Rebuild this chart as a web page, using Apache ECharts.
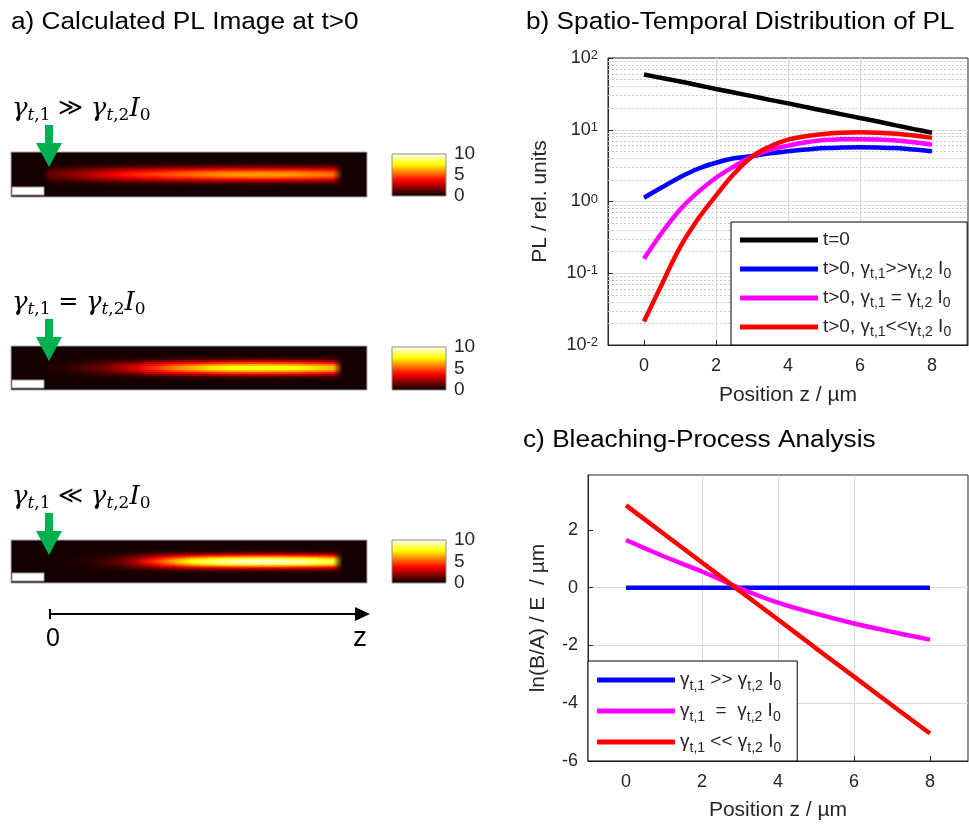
<!DOCTYPE html>
<html><head><meta charset="utf-8">
<script src="https://cdn.jsdelivr.net/npm/echarts@6/dist/echarts.min.js"></script>
<style>html,body{margin:0;padding:0;background:#fff}#c{width:969px;height:827px}</style>
</head><body><div id="c"></div>
<script>
// ---------- data ----------
const zB = [0,0.5,1,1.5,2,2.5,3,3.5,4,4.5,5,5.5,6,6.5,7,7.5,8];
const plT0    = [59,52.5,47,41.8,37,33,29.4,26.1,23.3,20.7,18.4,16.4,14.6,13,11.5,10.2,9.1];
const plHigh  = [1.13,1.58,2.18,2.86,3.47,4.0,4.3,4.7,5.0,5.3,5.55,5.65,5.7,5.65,5.55,5.3,5.0];
const plEqual = [0.159,0.37,0.77,1.35,2.14,3.08,4.24,5.26,6.0,6.7,7.2,7.35,7.4,7.3,7.1,6.7,6.2];
const plLow   = [0.0212,0.071,0.23,0.57,1.21,2.43,4.2,5.85,7.3,8.1,8.7,9.05,9.2,9.1,8.8,8.3,7.7];

const zC = [0,1,2,3,4,5,6,7,8];
const lnHigh  = [0,0,0,0,0,0,0,0,0];
const lnEqual = [1.65,1.08,0.56,-0.02,-0.52,-0.9,-1.24,-1.53,-1.8];
const lnLow   = [2.85,1.86,0.87,-0.12,-1.1,-2.1,-3.08,-4.07,-5.05];

// calculated PL images: wire edges (blurred start / end), background level, transverse profile
const imgStartZ = [-0.15], imgStartV = [0];
const imgEndZ = [8.25],   imgEndV = [0];
const imgBackground = 0.3;
const rowProfile = [0,0,0,0,0.008,0.04,0.13,0.32,0.58,0.84,1,
                    1,0.84,0.58,0.32,0.13,0.04,0.008,0,0,0,0];

const xTicks = [0,2,4,6,8];
const yTicksC = [-6,-4,-2,0,2];
const cbTicks = [0,5,10];
const minorFactors = [2,3,4,5,6,7,8,9];
const decades = [0.01,0.1,1,10];

const namesB = ['t=0','t>0, γt,1>>γt,2 I0','t>0, γt,1 = γt,2 I0','t>0, γt,1<<γt,2 I0'];
const labelsB = ['t=0','t>0, γ{s|t,1}>>γ{s|t,2} I{s|0}','t>0, γ{s|t,1} = γ{s|t,2} I{s|0}','t>0, γ{s|t,1}<<γ{s|t,2} I{s|0}'];
const namesC = ['γt,1 >> γt,2 I0','γt,1 = γt,2 I0','γt,1 << γt,2 I0'];
const labelsC = ['γ{s|t,1} >> γ{s|t,2} I{s|0}','γ{s|t,1}  =  γ{s|t,2} I{s|0}','γ{s|t,1} << γ{s|t,2} I{s|0}'];
const stripOps = ['≫','=','≪'];
const titles = ['a) Calculated PL Image at t>0','b) Spatio-Temporal Distribution of PL','c) Bleaching-Process Analysis'];

// ---------- styling ----------
const FONT = '"Liberation Sans", Arial, sans-serif';
const SERIF = '"DejaVu Serif", "Liberation Serif", serif';
const TXT = '#262626';
const hotColors = ['#000000','#550000','#aa0000','#ff0000','#ff5500','#ffaa00','#ffff00','#ffff80','#ffffff'];
const colors = {t0:'#000000', high:'#0000ff', eq:'#ff00ff', low:'#ff0000'};

function hot(v){ // MATLAB "hot" colormap on a 0..10 scale
  const t = Math.max(0, Math.min(1, v/10));
  const r = Math.min(1, t/0.375), g = Math.max(0, Math.min(1, (t-0.375)/0.375)), b = Math.max(0, Math.min(1, (t-0.75)/0.25));
  return 'rgb(' + Math.round(r*255) + ',' + Math.round(g*255) + ',' + Math.round(b*255) + ')';
}
function imgData(profile){
  const zs = imgStartZ.concat(zB, imgEndZ);
  const vs = imgStartV.concat(profile, imgEndV);
  const out = [];
  rowProfile.forEach((r,j)=>{
    if (r === 0) return;
    for(let k=0;k<zs.length-1;k++) out.push([zs[k], zs[k+1], j, imgBackground+vs[k]*r, imgBackground+vs[k+1]*r]);
  });
  return out;
}
function renderStrip(params, api){
  const z0 = api.value(0), z1 = api.value(1), j = api.value(2), v0 = api.value(3), v1 = api.value(4);
  const p0 = api.coord([z0, rowProfile.length - j]);
  const p1 = api.coord([z1, rowProfile.length - j - 1]);
  return {type:'rect',
    shape:{x:p0[0], y:p0[1], width:p1[0]-p0[0]+0.6, height:p1[1]-p0[1]+0.6},
    style:{fill:{type:'linear',x:0,y:0,x2:1,y2:0,colorStops:[{offset:0,color:hot(v0)},{offset:1,color:hot(v1)}]}}};
}
const minorVals = [];
decades.forEach(d=>minorFactors.forEach(f=>minorVals.push(+(d*f).toPrecision(3))));

const stripTops = [152,346,540], stripH = [45,44,43];
const cbTops = [154,347,540], cbH = [42,43,43];

const cbGradient = {type:'linear',x:0,y:0,x2:0,y2:1,colorStops:hotColors.slice().reverse().map((c,i,a)=>({offset:i/(a.length-1),color:c}))};

const grid = [], xAxis = [], yAxis = [];
stripTops.forEach((t,i)=>{
  grid.push({left:11,top:t,width:356,height:stripH[i],show:true,backgroundColor:hot(imgBackground),borderColor:'#a6a6a6',borderWidth:1,outerBoundsMode:'none'});
  xAxis.push({type:'value',gridIndex:i,min:-1.06,max:8.95,show:false});
  yAxis.push({type:'value',gridIndex:i,min:0,max:rowProfile.length,show:false});
});
cbTops.forEach((t,i)=>{
  grid.push({left:392,top:t,width:54,height:cbH[i],show:true,backgroundColor:cbGradient,borderColor:'#8c8c8c',borderWidth:1,outerBoundsMode:'none'});
  xAxis.push({type:'value',gridIndex:3+i,show:false,min:0,max:1});
  yAxis.push({type:'value',gridIndex:3+i,min:0,max:10,position:'right',
    axisLine:{show:false},axisTick:{show:false},splitLine:{show:false},
    axisLabel:{customValues:cbTicks,margin:8,fontSize:19,fontFamily:FONT,color:TXT}});
});
grid.push({left:608,top:58,width:360,height:287,show:true,backgroundColor:'#fff',borderColor:TXT,borderWidth:1,outerBoundsMode:'none'});
grid.push({left:588,top:475,width:380,height:286,show:true,backgroundColor:'#fff',borderColor:TXT,borderWidth:1,outerBoundsMode:'none'});

const gridLine = {show:true,lineStyle:{color:'#d9d9d9',width:1},showMinLine:false,showMaxLine:false};
function xAx(g, gap){
  return {type:'value',gridIndex:g,min:-1,max:9,
    name:'Position z / µm',nameLocation:'middle',nameGap:gap,
    nameTextStyle:{fontSize:21,fontFamily:FONT,color:TXT},
    axisLine:{show:true,onZero:false,lineStyle:{color:TXT,width:1}},
    axisTick:{show:true,inside:true,length:5,customValues:xTicks,lineStyle:{color:TXT}},
    axisLabel:{customValues:xTicks,margin:12,fontSize:18,fontFamily:FONT,color:TXT},
    splitLine:gridLine};
}
xAxis.push(xAx(6, 40));
xAxis.push(xAx(7, 39));
yAxis.push({type:'log',logBase:10,gridIndex:6,min:0.01,max:100,
  name:'PL / rel. units',nameLocation:'middle',nameGap:57,
  nameTextStyle:{fontSize:21,fontFamily:FONT,color:TXT},
  axisLine:{show:true,onZero:false,lineStyle:{color:TXT,width:1}},
  axisTick:{show:true,inside:true,length:5,lineStyle:{color:TXT}},
  axisLabel:{margin:10,formatter:v=>'{b|10}{p|'+Math.round(Math.log10(v))+'}',
    rich:{b:{fontSize:18,lineHeight:18,verticalAlign:'bottom',fontFamily:FONT,color:TXT},
          p:{fontSize:13,lineHeight:14,padding:[0,0,12,0],verticalAlign:'top',fontFamily:FONT,color:TXT}}},
  splitLine:gridLine});
yAxis.push({type:'value',gridIndex:7,min:-6,max:3.9,
  name:'ln(B/A) / E  / µm',nameLocation:'middle',nameGap:39,
  nameTextStyle:{fontSize:21,fontFamily:FONT,color:TXT},
  axisLine:{show:true,onZero:false,lineStyle:{color:TXT,width:1}},
  axisTick:{show:true,inside:true,length:5,customValues:yTicksC,lineStyle:{color:TXT}},
  axisLabel:{customValues:yTicksC,margin:10,fontSize:18,fontFamily:FONT,color:TXT},
  splitLine:gridLine});

const series = [];
[plHigh,plEqual,plLow].forEach((p,i)=>series.push({type:'custom',xAxisIndex:i,yAxisIndex:i,
  data:imgData(p),renderItem:renderStrip,silent:true,clip:true}));
series.push({type:'lines',coordinateSystem:'cartesian2d',xAxisIndex:6,yAxisIndex:6,z:1,silent:true,
  lineStyle:{color:'#cccccc',type:[2,2],width:1,opacity:1},
  data:minorVals.map(v=>({coords:[[-1,v],[9,v]]}))});
const bSeries = [[plT0,colors.t0],[plHigh,colors.high],[plEqual,colors.eq],[plLow,colors.low]];
bSeries.forEach(([p,c],i)=>series.push({type:'line',name:namesB[i],xAxisIndex:6,yAxisIndex:6,z:3,
  data:zB.map((z,k)=>[z,p[k]]),smooth:0.4,symbol:'none',showSymbol:false,
  lineStyle:{color:c,width:4.5},itemStyle:{color:c}}));
const cSeries = [[lnHigh,colors.high],[lnEqual,colors.eq],[lnLow,colors.low]];
cSeries.forEach(([p,c],i)=>series.push({type:'line',name:namesC[i],xAxisIndex:7,yAxisIndex:7,z:3,
  data:zC.map((z,k)=>[z,p[k]]),smooth:0.4,symbol:'none',showSymbol:false,
  lineStyle:{color:c,width:4.5},itemStyle:{color:c}}));

const legendCommon = {orient:'vertical',icon:'rect',itemWidth:78,itemHeight:5,selectedMode:false,
  backgroundColor:'#fff',borderColor:'#000',borderWidth:1,borderRadius:0,z:10};
const legend = [
  Object.assign({},legendCommon,{left:731,top:222,padding:[6,16,6,9],itemGap:5,
    data:namesB,formatter:n=>labelsB[namesB.indexOf(n)],
    textStyle:{fontSize:19,lineHeight:24,fontFamily:FONT,color:TXT,
      rich:{s:{fontSize:14,lineHeight:13,verticalAlign:'bottom',fontFamily:FONT,color:TXT}}}}),
  Object.assign({},legendCommon,{left:588,top:661,padding:[6,16,6,9],itemGap:5,
    data:namesC,formatter:n=>labelsC[namesC.indexOf(n)],
    textStyle:{fontSize:19,lineHeight:26,fontFamily:FONT,color:TXT,
      rich:{s:{fontSize:14,lineHeight:14,verticalAlign:'bottom',fontFamily:FONT,color:TXT}}}})
];

// texts and annotations
const graphic = [];
const titlePos = [[11,23],[526,23],[523,441]];
titles.forEach((t,i)=>graphic.push({type:'text',x:titlePos[i][0],y:titlePos[i][1],scaleX:1.14,z:20,
  style:{text:t,fontSize:23,fontFamily:FONT,fill:'#000',verticalAlign:'middle'}}));
const mathRich = {
  g:{fontFamily:SERIF,fontStyle:'italic',fontSize:26,lineHeight:30,color:'#000'},
  si:{fontFamily:SERIF,fontStyle:'italic',fontSize:17,lineHeight:17,verticalAlign:'bottom',color:'#000'},
  s:{fontFamily:SERIF,fontSize:17,lineHeight:17,verticalAlign:'bottom',color:'#000'},
  o:{fontFamily:SERIF,fontSize:24,lineHeight:30,color:'#000'}
};
stripTops.forEach((t,i)=>{
  graphic.push({type:'text',x:12,y:t-58,z:20,style:{
    text:'{g|γ}{si|t}{s|,1}{o| '+stripOps[i]+' }{g|γ}{si|t}{s|,2}{g|I}{s|0}',rich:mathRich}});
  const a = t-27;
  graphic.push({type:'polygon',z:20,shape:{points:[[45,a],[53,a],[53,a+18],[62,a+18],[49,a+42],[36,a+18],[45,a+18]]},style:{fill:'#00b050'}});
  const b = t+stripH[i];
  graphic.push({type:'rect',z:20,shape:{x:12,y:b-10,width:32,height:8},style:{fill:'#fff',stroke:'#9a9a9a',lineWidth:1}});
});
graphic.push({type:'line',z:20,shape:{x1:50,y1:614,x2:358,y2:614},style:{stroke:'#000',lineWidth:2}});
graphic.push({type:'line',z:20,shape:{x1:50,y1:609,x2:50,y2:619},style:{stroke:'#000',lineWidth:2}});
graphic.push({type:'polygon',z:20,shape:{points:[[355,607],[370,614],[355,621]]},style:{fill:'#000'}});
graphic.push({type:'text',z:20,x:53,y:639,style:{text:'0',fontSize:25,fontFamily:FONT,fill:'#000',align:'center',verticalAlign:'middle'}});
graphic.push({type:'text',z:20,x:360,y:638,style:{text:'z',fontSize:28,fontFamily:FONT,fill:'#000',align:'center',verticalAlign:'middle'}});

const option = {
  animation:false,
  backgroundColor:'#fff',
  grid, xAxis, yAxis, legend, series, graphic
};
const chart = echarts.init(document.getElementById('c'));
chart.setOption(option);
</script></body></html>
